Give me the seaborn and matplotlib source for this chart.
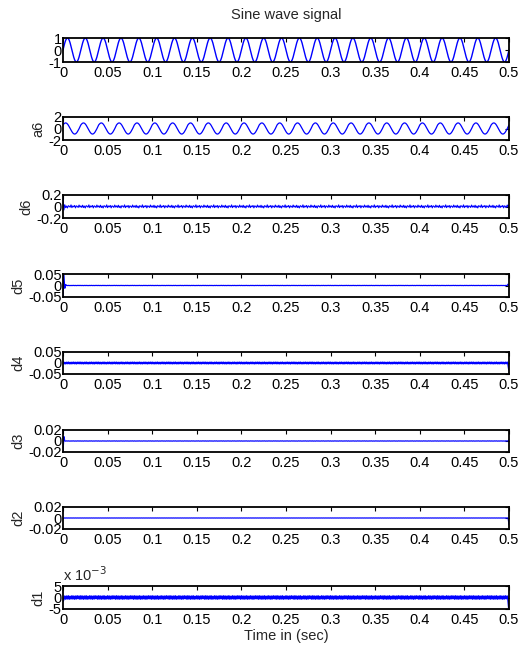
import matplotlib
matplotlib.use("Agg")
import matplotlib.pyplot as plt
import numpy as np
import pandas as pd
import seaborn as sns

# time axis: 0 .. 0.5 s, 25 cycles of 50 Hz, 20 samples per cycle
n_cycles = 25
time_end = 0.5

# one cycle of each signal
sine_cycle = [0.0, 0.309, 0.588, 0.809, 0.951, 1.0, 0.951, 0.809, 0.588, 0.309,
              0.0, -0.309, -0.588, -0.809, -0.951, -1.0, -0.951, -0.809, -0.588, -0.309]
a6_cycle = [0.62, 0.80, 0.93, 0.97, 0.92, 0.78, 0.57, 0.30, 0.01, -0.28,
            -0.55, -0.77, -0.91, -0.97, -0.93, -0.80, -0.60, -0.33, -0.04, 0.30]
d6_cycle = [0.010, -0.015, 0.022, -0.018, 0.008, -0.025, 0.014, 0.004, -0.012, 0.028,
            -0.020, 0.009, -0.006, 0.018, -0.024, 0.011, 0.002, -0.016, 0.025, -0.010]
d5_cycle = [0.0005, -0.0004, 0.0003, -0.0005, 0.0004, -0.0003, 0.0005, -0.0004, 0.0002, -0.0005,
            0.0004, -0.0003, 0.0005, -0.0004, 0.0003, -0.0005, 0.0004, -0.0002, 0.0005, -0.0004]
d4_cycle = [0.0025, -0.0022, 0.0018, -0.0026, 0.0021, -0.0019, 0.0027, -0.0023, 0.0016, -0.0025,
            0.0022, -0.0018, 0.0026, -0.0021, 0.0019, -0.0027, 0.0023, -0.0016, 0.0025, -0.0022]
d3_cycle = [0.0002, -0.0002, 0.0001, -0.0002, 0.0002, -0.0001, 0.0002, -0.0002, 0.0001, -0.0002,
            0.0002, -0.0001, 0.0002, -0.0002, 0.0001, -0.0002, 0.0002, -0.0001, 0.0002, -0.0002]
d2_cycle = [0.0001, -0.0001, 0.0001, -0.0001, 0.0001, -0.0001, 0.0001, -0.0001, 0.0001, -0.0001,
            0.0001, -0.0001, 0.0001, -0.0001, 0.0001, -0.0001, 0.0001, -0.0001, 0.0001, -0.0001]
d1_cycle = [0.6, -0.5, 0.5, -0.6, 0.5, -0.5, 0.6, -0.6, 0.4, -0.5,
            0.6, -0.5, 0.5, -0.6, 0.5, -0.5, 0.6, -0.4, 0.5, -0.6]  # units of 1e-3

# transients at the start / end of the detail signals
d6_start = [0.15, -0.06, 0.03, -0.02]
d6_end = [0.03]
d5_start = [-0.05, 0.045, -0.012, 0.004]
d5_end = [0.006, -0.004]
d4_start = [0.004, -0.003]
d4_end = [-0.03]
d3_start = [-0.02, 0.008]
d3_end = [0.002]
d2_start = [-0.002]
d2_end = [-0.012]
d1_start = [-1.5]
d1_end = [-5.0]

panel_names = ["sine", "a6", "d6", "d5", "d4", "d3", "d2", "d1"]
panel_labels = ["", "a6", "d6", "d5", "d4", "d3", "d2", "d1"]
y_limits = [(-1, 1), (-2, 2), (-0.2, 0.2), (-0.05, 0.05), (-0.05, 0.05),
            (-0.02, 0.02), (-0.02, 0.02), (-5, 5)]
y_ticks = [[-1, 0, 1], [-2, 0, 2], [-0.2, 0, 0.2], [-0.05, 0, 0.05], [-0.05, 0, 0.05],
           [-0.02, 0, 0.02], [-0.02, 0, 0.02], [-5, 0, 5]]
y_ticklabels = [["-1", "0", "1"], ["-2", "0", "2"], ["-0.2", "0", "0.2"],
                ["-0.05", "0", "0.05"], ["-0.05", "0", "0.05"],
                ["-0.02", "0", "0.02"], ["-0.02", "0", "0.02"], ["-5", "0", "5"]]
x_ticks = [0, 0.05, 0.1, 0.15, 0.2, 0.25, 0.3, 0.35, 0.4, 0.45, 0.5]
x_ticklabels = ["0", "0.05", "0.1", "0.15", "0.2", "0.25", "0.3", "0.35", "0.4", "0.45", "0.5"]


def build(cycle, start=(), end=()):
    vals = list(np.tile(cycle, n_cycles)) + [cycle[0]]
    vals[:len(start)] = list(start)
    if len(end):
        vals[-len(end):] = list(end)
    return vals


signals = {
    "sine": build(sine_cycle),
    "a6": build(a6_cycle),
    "d6": build(d6_cycle, d6_start, d6_end),
    "d5": build(d5_cycle, d5_start, d5_end),
    "d4": build(d4_cycle, d4_start, d4_end),
    "d3": build(d3_cycle, d3_start, d3_end),
    "d2": build(d2_cycle, d2_start, d2_end),
    "d1": build(d1_cycle, d1_start, d1_end),
}
n_pts = len(signals["sine"])
time = np.linspace(0, time_end, n_pts)
df = pd.DataFrame({"time": time, **signals})

sns.set_style("white")
plt.rcParams["font.family"] = ["Liberation Sans", "DejaVu Sans"]
fs = 10.5
plt.rcParams["font.size"] = fs

W, H = 520, 656
fig = plt.figure(figsize=(W / 100, H / 100), dpi=100)

# axes boxes in pixels (top, bottom)
boxes = [(38, 62), (117, 140), (195, 218), (274, 297), (352, 374),
         (430, 452), (507, 529), (586, 609)]
left_px, right_px = 63, 509

line_widths = [1.0, 0.9, 0.8, 0.9, 1.4, 0.9, 0.9, 1.4]

for i, name in enumerate(panel_names):
    top, bot = boxes[i]
    ax = fig.add_axes([left_px / W, 1 - bot / H, (right_px - left_px) / W, (bot - top) / H])
    sns.lineplot(data=df, x="time", y=name, ax=ax, color="#0000ff",
                 linewidth=line_widths[i], estimator=None)
    ax.set_xlim(0, time_end)
    ax.set_ylim(*y_limits[i])
    ax.set_xticks(x_ticks)
    ax.set_xticklabels(x_ticklabels)
    ax.set_yticks(y_ticks[i])
    ax.set_yticklabels(y_ticklabels[i])
    ax.tick_params(direction="in", length=3, width=0.8, top=True, right=True,
                   labelsize=fs, pad=1, colors="black")
    ax.tick_params(axis="x", pad=3)
    for s in ax.spines.values():
        s.set_visible(True)
        s.set_color("black")
        s.set_linewidth(1.3)
    ax.set_ylabel(panel_labels[i], fontsize=fs, labelpad=2)
    ax.set_xlabel("")
    if i == 0:
        ax.set_title("Sine wave signal", fontsize=fs, pad=14)
    if name == "d1":
        ax.text(0, 1.08, "x 10$^{-3}$", transform=ax.transAxes, fontsize=fs,
                ha="left", va="bottom")
        ax.set_xlabel("Time in (sec)", fontsize=fs, labelpad=1)

fig.savefig("out.png", dpi=100)
